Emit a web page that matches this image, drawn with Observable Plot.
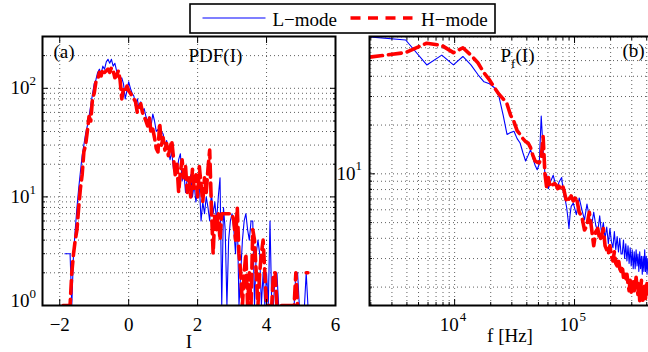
<!DOCTYPE html>
<html><head><meta charset="utf-8">
<script src="https://cdn.jsdelivr.net/npm/d3@7"></script>
<script src="https://cdn.jsdelivr.net/npm/@observablehq/plot@0.6"></script>
<style>
html,body{margin:0;padding:0;background:#fff;}
#wrap{position:relative;width:648px;height:352px;overflow:hidden;background:#fff;font-family:"Liberation Serif","Times New Roman",serif;}
#wrap svg{position:absolute;top:0;}
#wrap svg text{font-family:"Liberation Serif","Times New Roman",serif;}
</style></head><body><div id="wrap"></div>
<script>
// ---------- Panel (a): PDF(I) ----------
const pdfI = [-1.90,-1.85,-1.80,-1.75,-1.70,-1.65,-1.60,-1.55,-1.50,-1.45,-1.40,-1.35,-1.30,-1.25,-1.20,-1.15,-1.10,-1.05,-1.00,-0.95,-0.90,-0.85,-0.80,-0.75,-0.70,-0.65,-0.60,-0.55,-0.50,-0.45,-0.40,-0.35,-0.30,-0.25,-0.20,-0.15,-0.10,-0.05,0.00,0.05,0.10,0.15,0.20,0.25,0.30,0.35,0.40,0.45,0.50,0.55,0.60,0.65,0.70,0.75,0.80,0.85,0.90,0.95,1.00,1.05,1.10,1.15,1.20,1.25,1.30,1.35,1.40,1.45,1.50,1.55,1.60,1.65,1.70,1.75,1.80,1.85,1.90,1.95,2.00,2.05,2.10,2.15,2.20,2.25,2.30,2.35,2.40,2.45,2.50,2.55,2.60,2.65,2.70,2.75,2.80,2.85,2.90,2.95,3.00,3.05,3.10,3.15,3.20,3.25,3.30,3.35,3.40,3.45,3.50,3.55,3.60,3.65,3.70,3.75,3.80,3.85,3.90,3.95,4.00,4.05,4.10,4.15,4.20,4.25,4.30,4.35,4.40,4.45,4.50,4.55,4.60,4.65,4.70,4.75,4.80,4.85,4.90,4.95,5.00,5.05,5.10,5.15,5.20];
const pdfL = [null,3,3,3,3,1,3,5,8,12, 17,24,30,38,45,55,70,88,110,120, 140,150,135,160,150,175,185,170,185,160, 170,145,130,120,125,110,80,95,115,100, 90,85,70,80,65,75,62,65,55,50, 55,45,58,50,40,42,35,40,38,30, 33,28,22,26,18,20,17,22,25,14, 17,11,15,13,16,10,13,9,11,13, 6,9,7,10,8,6,11,7,9,6, 10,15,1,8,5,1,4,6,7,5, 3,7,1,2,4,6,7,5,4,6, 6,1,3,4,3,1,2,1,2,1, 6,1,1,2,2,1,1,null,null,null, null,null,null,null,1,2,2,1,null,null, 1,2,1];
const pdfH = [1,1,1,1,1,2,3,4,5,8, 12,16,26,30,40,55,50,80,90,115, 120,140,130,150,140,145,150,140,155,145, 125,130,145,120,80,100,95,105,95,90, 85,80,75,60,65,72,60,55,50,45, 55,38,42,35,28,26,48,30,35,27, 31,24,28,33,23,16,20,11,17,22, 15,19,11,15,10,18,12,16,10,19, 13,9,15,11,18,27,8,3,7,5, 7,4,7,7,7,7,7,7,7,6, 4,8,3,2,1,2,3,1,2,1, 5,4,2,1,2,3,4,2,1,1, 1,1,2,2,1,1,1,1,1,1, 1,1,1,1,1,2,1,null,null,null, null,2,2];
const aXTicks = [-2,0,2,4,6];
const aXGrid = [-2,0,2,4];
const aYMajor = [1,10,100];
const aYMinor = [2,3,4,5,6,7,8,9,20,30,40,50,60,70,80,90,200,300];

// ---------- Panel (b): Pf(I) ----------
const fHz = [1953,3906,5859,7813,9766,11719,13672,15625,17578,19531, 21484,23438,25391,27344,29297,31250,33203,35156,37109,39063, 41016,42969,44922,46875,48828,50781,52734,54688,56641,58594, 60547,62500,64453,66406,68359,70313,72266,74219,76172,78125, 80078,82031,83984,85938,87891,89844,91797,93750, 97656,103516,109375,115234,121094,126953,132813,138672,144531,150391, 156250,162109,167969,173828,179688,185547,191406,197266,203125,208984, 214844,220703,226563,232422,238281,244141,250000,255859,261719,267578, 273438,279297,285156,291016,296875,302734,308594,314453,320313,326172, 332031,337891,343750,349609,355469,361328,367188,373047,378906,384766, 390625,396484,402344,408203,414063,419922,425781];
const psdL = [70,67,47,54,47,53,47,41,37,36, 34,30,23,17.5,18,18.3,16.5,15.5,13.5,12, 13,14.1,12.5,11.3,10.6,11.5,22.7,14,10,9.9, 8.1,8.8,9.3,9.8,9.0,8.6,8.3,8.9,9.2,9.5, 8.0,7.2,6.8,6.2,5.4,4.6,5.6,6.3, 6.6,5.6,7.1,6.0,5.2,6.5,5.4,4.8,5.8,4.8, 4.4,5.5,4.3,5.0,4.0,4.7,3.7,4.6,3.8,3.5, 4.4,3.4,4.1,3.3,4.0,3.2,3.2,3.9,3.0,3.7, 2.9,3.6,2.8,3.5,2.7,3.4,2.6,3.3,2.6,3.4, 2.7,3.2,2.5,3.3,2.6,3.1,2.4,3.1,2.5,3.4, 2.5,3.1,2.4,3.0,2.5,3.0,2.6];
const psdH = [52.5,56,64,62,56,60,54,48.5,42,38, 34,31,29,27,23,21,18.5,17.5,16.5,15.8, 15.5,14.5,13,12,11.8,11.7,12.5,17,10,8.2, 9.5,8.3,8.5,8.6,8.7,8.5,8.1,8.4,8.0,8.3, 8.3,7.8,7.2,6.7,6.8,7.0,7.1,7.3, 6.8,7.2,5.8,5.4,4.5,4.8,5.8,4.6,3.6,4.4, 4.6,3.9,4.1,4.6,3.6,3.4,3.2,3.6,3.1,2.9, 3.3,2.8,2.7,3.0,2.6,2.5,2.7,2.3,2.4,2.2, 2.4,2.1,1.9,2.2,1.86,2.1,2.2,1.9,2.0,2.3, 2.0,1.8,2.1,1.65,1.9,2.2,1.75,1.6,1.9,2.1, 1.7,2.0,2.1,1.8,2.0,1.9,2.1];
const bXMajor = [1e4,1e5];
const bXMinor = [2000,3000,4000,5000,6000,7000,8000,9000,20000,30000,40000,50000,60000,70000,80000,90000,200000,300000,400000];
const bYMajor = [10];
const bYMinor = [2,3,4,5,6,7,8,9,20,30,40,50,60,70];

const seriesNames = ["L\u2212mode","H\u2212mode"];
const BLUE = "#0000ff", RED = "#ff0000";
const FONT = "Liberation Serif";
const F = {fontFamily:FONT};
const grid = {stroke:"#000", strokeOpacity:0.7, strokeWidth:0.9, strokeDasharray:"1,3"};
const noText = {fill:"none", label:null};
const blueStyle = {stroke:BLUE, strokeWidth:1.1, clip:true};
const redStyle = {stroke:RED, strokeWidth:3.6, strokeDasharray:"13,6", clip:true};
const style = "font-family:'Liberation Serif','Times New Roman',serif;font-size:19px;color:#000;background:transparent;overflow:visible;";
const fmtLin = d => d < 0 ? "\u2212" + Math.abs(d) : String(d);
const expo = d => String(Math.round(Math.log10(d)));

const rowsAL = pdfI.map((x,i)=>({x, y:pdfL[i]}));
const rowsAH = pdfI.map((x,i)=>({x, y:pdfH[i]}));
const rowsBL = fHz.map((x,i)=>({x, y:psdL[i]}));
const rowsBH = fHz.map((x,i)=>({x, y:psdH[i]}));

const W = document.getElementById("wrap");

const plotA = Plot.plot({
  width:345, height:352, marginLeft:42, marginRight:10, marginTop:36, marginBottom:47,
  x:{type:"linear", domain:[-2.5,6]},
  y:{type:"log", domain:[1,300]},
  style,
  marks:[
    Plot.ruleX(aXGrid, {x:d=>d, ...grid}),
    Plot.ruleY(aYMajor.concat(aYMinor), {y:d=>d, ...grid}),
    Plot.line(rowsAL, {x:"x", y:"y", ...blueStyle}),
    Plot.line(rowsAH, {x:"x", y:"y", ...redStyle}),
    Plot.axisX(aXTicks, {anchor:"bottom", tickSize:-6, ...noText}),
    Plot.axisX(aXTicks, {anchor:"top", tickSize:-6, ...noText}),
    Plot.axisY(aYMajor, {anchor:"left", tickSize:-6, ...noText}),
    Plot.axisY(aYMajor, {anchor:"right", tickSize:-6, ...noText}),
    Plot.axisY(aYMinor, {anchor:"left", tickSize:-3, ...noText}),
    Plot.axisY(aYMinor, {anchor:"right", tickSize:-3, ...noText}),
    Plot.frame({stroke:"#000", strokeWidth:2}),
    Plot.text(aXTicks, {x:d=>d, text:fmtLin, frameAnchor:"bottom", lineAnchor:"top", dy:12, fontSize:19, ...F}),
    Plot.text(aYMajor.filter(d=>d>1), {y:d=>d, text:()=>"10", frameAnchor:"left", textAnchor:"end", lineAnchor:"middle", dx:-13, fontSize:19, ...F}),
    Plot.text(aYMajor.filter(d=>d>1), {y:d=>d, text:expo, frameAnchor:"left", textAnchor:"start", lineAnchor:"bottom", dx:-13, dy:-3, fontSize:13, ...F}),
    Plot.text(aYMajor.filter(d=>d===1), {y:d=>d, text:()=>"10", frameAnchor:"left", textAnchor:"end", lineAnchor:"middle", dx:-13, dy:-5, fontSize:19, ...F}),
    Plot.text(aYMajor.filter(d=>d===1), {y:d=>d, text:expo, frameAnchor:"left", textAnchor:"start", lineAnchor:"bottom", dx:-13, dy:-8, fontSize:13, ...F}),
    Plot.text(["I"], {text:d=>d, frameAnchor:"bottom", lineAnchor:"bottom", dy:42, fontSize:19, ...F}),
    Plot.text(["(a)"], {text:d=>d, frameAnchor:"top-left", textAnchor:"start", lineAnchor:"bottom", dx:11, dy:21.5, fontSize:19, ...F}),
    Plot.text(["PDF(I)"], {text:d=>d, frameAnchor:"top-left", textAnchor:"start", lineAnchor:"bottom", dx:146, dy:25.5, fontSize:19, ...F})
  ]
});
plotA.style.left = "0px";
W.appendChild(plotA);

const plotB = Plot.plot({
  width:320, height:352, marginLeft:39, marginRight:0, marginTop:36, marginBottom:47,
  x:{type:"log", domain:[1950,430000]},
  y:{type:"log", domain:[1.54,70.4]},
  style,
  marks:[
    Plot.ruleX(bXMajor.concat(bXMinor), {x:d=>d, ...grid}),
    Plot.ruleY(bYMajor.concat(bYMinor), {y:d=>d, ...grid}),
    Plot.line(rowsBL, {x:"x", y:"y", ...blueStyle}),
    Plot.line(rowsBH, {x:"x", y:"y", ...redStyle}),
    Plot.axisX(bXMajor, {anchor:"bottom", tickSize:-6, ...noText}),
    Plot.axisX(bXMajor, {anchor:"top", tickSize:-6, ...noText}),
    Plot.axisX(bXMinor, {anchor:"bottom", tickSize:-3, ...noText}),
    Plot.axisX(bXMinor, {anchor:"top", tickSize:-3, ...noText}),
    Plot.axisY(bYMajor, {anchor:"left", tickSize:-6, ...noText}),
    Plot.axisY(bYMinor, {anchor:"left", tickSize:-3, ...noText}),
    Plot.frame({stroke:"#000", strokeWidth:2}),
    Plot.text(bXMajor, {x:d=>d, text:()=>"10", frameAnchor:"bottom", textAnchor:"end", lineAnchor:"top", dx:4, dy:12, fontSize:19, ...F}),
    Plot.text(bXMajor, {x:d=>d, text:expo, frameAnchor:"bottom", textAnchor:"start", lineAnchor:"top", dx:5, dy:6, fontSize:13, ...F}),
    Plot.text(bYMajor, {y:d=>d, text:()=>"10", frameAnchor:"left", textAnchor:"end", lineAnchor:"middle", dx:-14, fontSize:19, ...F}),
    Plot.text(bYMajor, {y:d=>d, text:expo, frameAnchor:"left", textAnchor:"start", lineAnchor:"bottom", dx:-14, dy:-4, fontSize:13, ...F}),
    Plot.text(["f [Hz]"], {text:d=>d, frameAnchor:"bottom", lineAnchor:"bottom", dy:36.5, fontSize:19, ...F}),
    Plot.text(["P"], {text:d=>d, frameAnchor:"top-left", textAnchor:"start", lineAnchor:"bottom", dx:131, dy:25.7, fontSize:19, ...F}),
    Plot.text(["f"], {text:d=>d, frameAnchor:"top-left", textAnchor:"start", lineAnchor:"bottom", dx:141.5, dy:31.5, fontSize:13, ...F}),
    Plot.text(["(I)"], {text:d=>d, frameAnchor:"top-left", textAnchor:"start", lineAnchor:"bottom", dx:146, dy:25.7, fontSize:19, ...F}),
    Plot.text(["(b)"], {text:d=>d, frameAnchor:"top-left", textAnchor:"start", lineAnchor:"bottom", dx:253, dy:20, fontSize:19, ...F})
  ]
});
plotB.style.left = "330px";
W.appendChild(plotB);

// ---------- Legend ----------
const NS = "http://www.w3.org/2000/svg";
const leg = document.createElementNS(NS, "svg");
leg.setAttribute("width", 307); leg.setAttribute("height", 31);
leg.style.left = "188.5px"; leg.style.top = "3px";
function el(tag, attrs, txt){ const e = document.createElementNS(NS, tag); for (const k in attrs) e.setAttribute(k, attrs[k]); if (txt) e.textContent = txt; leg.appendChild(e); return e; }
el("rect", {x:1, y:1, width:305, height:29, fill:"#fff", stroke:"#000", "stroke-width":1.6});
el("line", {x1:13.5, x2:76.5, y1:15, y2:15, stroke:BLUE, "stroke-width":1.1});
el("text", {x:83.5, y:23, "font-size":19, fill:"#000"}, seriesNames[0]);
el("line", {x1:161.5, x2:223.5, y1:15, y2:15, stroke:RED, "stroke-width":3.4, "stroke-dasharray":"10,7.5"});
el("text", {x:232, y:23, "font-size":19, fill:"#000"}, seriesNames[1]);
W.appendChild(leg);
</script></body></html>
